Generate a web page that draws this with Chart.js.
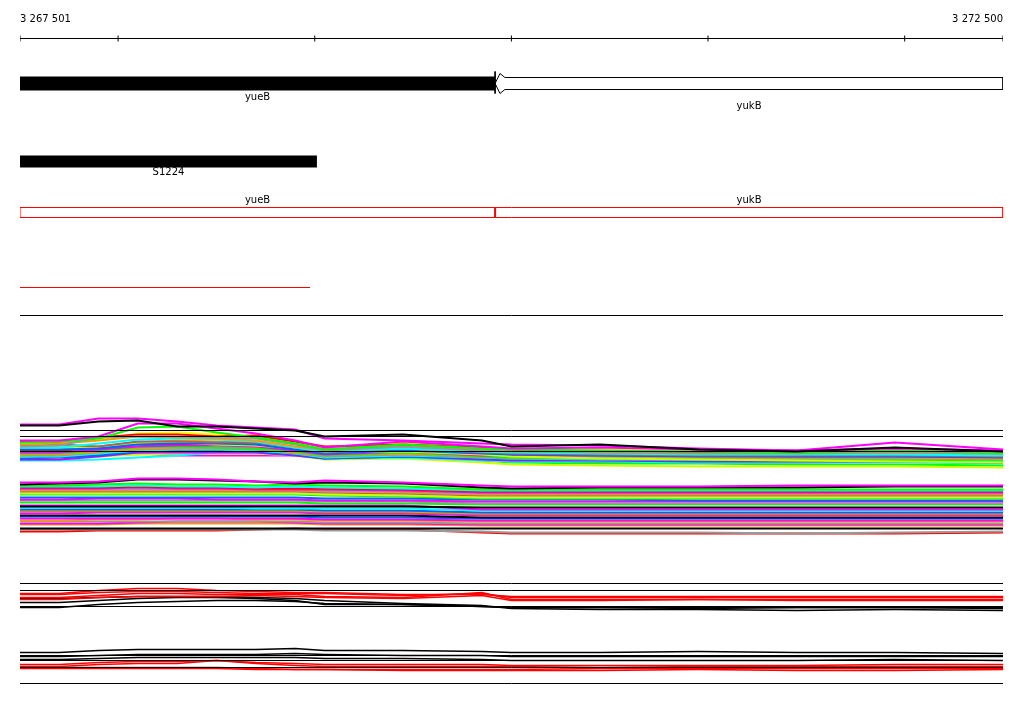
<!DOCTYPE html>
<html>
<head>
<meta charset="utf-8">
<script src="https://cdn.jsdelivr.net/npm/chart.js@4"></script>
<style>
  html, body { margin: 0; padding: 0; background: #fff; }
  canvas { display: block; }
</style>
</head>
<body>
<canvas id="browser" width="1024" height="714"></canvas>
<script>
// region shown (bp) and ruler ticks
const regionStart = 3267501;
const regionEnd = 3272500;
const rulerTicks = [3267501, 3268000, 3269000, 3270000, 3271000, 3272000, 3272500];

// annotation tracks
const geneNames = ['yueB', 'yukB'];
const geneStarts = [3267501, 3269917];
const geneEnds = [3269917, 3272500];
const featureName = 'S1224';
const featureStart = 3267501;
const featureEnd = 3269011;
const segmentEnd = 3268976;

// expression profiles: sample positions (bp) and row offsets per series
const positions = [3267501, 3267700, 3267900, 3268100, 3268300, 3268500, 3268700, 3268900, 3269050, 3269450, 3269850, 3270000, 3270450, 3270950, 3271450, 3271950, 3272500];

const upperFlat = [430, 436, 451];
const upperRows = [
  [425,425,421,420,426,426,428,430,436,434,440,446,444,449,451,447,451],
  [424,424,418,418,421,425,427,429,438,440,443,444,445,448,450,442,449],
  [440,440,436,423,423,428,433,440,447,441,446,448,447,449,450,448,450],
  [442,441,438,427,426,432,437,443,449,444,448,449,450,451,452,450,452],
  [446,445,437,436,436,437,438,444,450,446,450,451,452,453,453,452,453],
  [441,441,437,434,434,436,435,441,446,444,447,449,451,452,451,451,452],
  [444,443,440,436,437,438,440,446,449,445,449,450,452,452,452,452,453],
  [447,447,443,439,438,439,441,447,451,448,451,452,453,454,454,454,455],
  [445,444,446,441,441,442,442,447,452,448,452,453,454,455,455,455,456],
  [449,449,448,444,443,443,444,449,453,450,453,454,455,456,456,456,457],
  [448,448,447,443,442,444,445,448,452,451,454,456,458,459,460,461,462],
  [452,452,449,446,445,445,446,450,454,451,455,455,455,455,456,456,456],
  [453,453,450,447,446,447,448,451,455,452,456,457,458,459,460,460,461],
  [454,454,451,448,447,447,447,452,455,453,456,457,457,457,457,457,458],
  [455,455,452,449,448,448,449,453,456,454,457,458,458,458,458,458,459],
  [456,456,453,450,449,449,450,453,457,455,457,458,459,459,459,459,460],
  [458,457,455,451,450,450,451,454,458,456,458,459,459,460,460,460,461],
  [459,459,456,452,452,452,452,455,458,456,459,460,460,461,461,461,462],
  [460,460,459,457,455,452,452,455,458,457,460,461,461,462,462,462,463],
  [457,457,456,454,453,453,453,455,459,458,462,464,465,466,466,466,467],
  [450,450,448,446,444,444,444,449,452,451,455,457,458,458,459,459,459],
  [451,451,452,453,455,455,455,455,452,453,454,455,455,456,456,456,457],
  [455,455,454,452,451,451,451,453,456,454,460,462,463,463,464,464,465],
  [456,456,455,453,452,452,452,454,458,455,458,460,462,462,462,461,461],
  [447,447,446,442,440,441,442,447,450,447,451,452,453,453,453,453,454],
  [443,443,439,433,432,434,436,442,448,442,447,448,449,450,451,449,451]
];
const upperColors = ['#000000','#ff00ff','#ff00ff','#00ff00','#999999','#ff0000','#ff9900','#00ffff','#a06666','#0066ff','#ccff00','#ff00ff','#00ff00','#ff9900','#999999','#00ffff','#0066ff','#cc00ff','#00ffff','#ccff00','#ff0000','#ff00ff','#00ff00','#ff0000','#ff9900','#ffff00'];

const lowerRows = [
  [482,482,481,478,478,479,481,482,480,482,485,486,486,486,485,485,485],
  [484,483,482,479,479,480,481,483,482,483,487,488,487,487,487,486,486],
  [485,485,484,483,484,484,485,484,485,486,489,489,489,489,489,489,489],
  [486,486,486,485,486,486,487,486,487,488,490,490,490,490,490,490,490],
  [487,487,487,486,487,487,488,488,488,489,491,491,491,491,491,491,491],
  [488,488,488,487,488,488,489,489,489,490,492,492,492,492,492,492,492],
  [489,489,489,489,489,489,489,489,490,491,493,493,493,493,493,493,493],
  [490,490,490,490,490,490,490,490,491,492,494,494,494,494,494,494,494],
  [491,491,491,491,491,491,491,491,492,493,495,495,495,495,495,495,495],
  [493,493,493,493,493,493,493,493,494,495,497,497,497,497,497,497,497],
  [494,494,494,494,494,494,494,494,495,496,498,498,498,498,498,498,498],
  [497,497,497,497,497,497,497,497,498,498,499,499,499,500,500,500,500],
  [499,499,498,498,498,499,499,499,500,500,501,501,501,501,501,501,501],
  [500,500,500,500,500,500,500,500,501,501,503,503,503,503,503,503,503],
  [502,502,502,502,502,502,502,502,503,503,504,504,504,504,504,504,504],
  [506,506,506,506,506,506,506,506,506,506,507,507,507,507,507,507,507],
  [505,505,505,505,505,505,505,505,505,505,509,509,509,509,509,509,509],
  [507,507,507,507,507,507,508,508,508,508,510,510,510,510,510,510,510],
  [509,509,509,509,509,509,509,509,510,510,512,512,512,512,512,512,512],
  [510,510,510,510,510,510,510,510,511,511,513,513,513,513,513,513,513],
  [511,511,511,511,511,511,511,511,512,512,514,514,514,514,514,514,514],
  [513,513,512,512,512,512,512,512,513,513,515,515,515,515,515,515,515],
  [515,515,515,515,515,515,515,515,515,515,517,517,517,517,517,517,517],
  [516,516,516,516,516,516,516,516,517,517,518,518,518,518,518,518,518],
  [518,518,518,518,518,518,518,518,519,519,520,520,520,520,520,520,520],
  [520,520,519,519,518,518,519,519,520,520,521,521,521,521,521,521,521],
  [521,521,521,521,521,521,521,521,522,522,523,523,523,523,523,523,523],
  [523,523,523,522,521,521,521,522,523,523,524,524,524,524,524,524,524],
  [524,524,524,523,523,523,523,523,524,524,525,525,525,525,525,525,525],
  [528,528,528,528,528,528,528,528,528,528,528,528,528,528,528,528,528],
  [529,529,529,529,529,529,529,529,530,530,531,532,532,532,533,532,531],
  [531,531,530,530,530,530,529,528,529,529,532,533,533,533,533,533,532]
];
const lowerColors = ['#ff00ff','#000000','#00ff00','#00ffff','#ff0000','#ff00ff','#999999','#ff9900','#a06666','#ccff00','#00ff00','#0066ff','#ff00ff','#999999','#00ff00','#000000','#ff00ff','#00ffff','#0066ff','#ff9900','#a06666','#ff00ff','#000000','#0066ff','#ff00ff','#ff9900','#999999','#ff00ff','#ff9900','#000000','#999999','#ff0000'];

const panelFlat = [583, 590, 606, 655, 660, 667, 683];
const panelRows = [
  [593,593,590,588,588,590,591,592,592,594,594,596,596,596,596,596,596],
  [594,594,592,591,591,592,593,593,593,595,593,597,597,597,597,597,597],
  [597,597,595,593,593,594,594,594,596,597,592,599,599,599,599,599,599],
  [599,599,597,596,596,596,595,596,597,598,595,600,600,599,600,600,600],
  [602,602,600,598,597,597,598,600,604,604,606,607,607,608,607,607,608],
  [598,598,597,596,596,596,597,598,600,603,605,608,609,609,610,609,610],
  [607,607,604,602,601,600,600,601,603,604,606,607,607,607,607,607,607],
  [652,652,650,649,649,649,649,648,650,650,651,652,652,651,652,652,653],
  [656,656,655,654,654,654,654,653,654,655,655,656,656,656,656,656,656],
  [664,664,662,661,661,660,662,663,664,664,664,665,665,665,665,664,664],
  [666,666,664,663,663,660,663,665,666,666,666,666,667,666,666,666,666],
  [667,667,667,667,667,667,668,669,669,669,669,669,668,668,668,668,668],
  [668,668,668,668,668,668,669,669,669,670,670,670,670,669,670,670,669],
  [659,659,658,657,657,657,657,657,658,658,659,660,660,660,660,659,660]
];
const panelColors = ['#ff0000','#ff0000','#ff0000','#ff0000','#000000','#000000','#000000','#000000','#000000','#ff0000','#ff0000','#ff0000','#ff0000','#000000'];

// helpers
const pt = (x, y) => ({ x, y });
function path(points, color, width, extra) {
  return Object.assign({
    type: 'line', data: points, borderColor: color, borderWidth: width,
    pointRadius: 0, tension: 0, fill: false
  }, extra || {});
}
function profiles(rows, colors, width) {
  return rows.map((r, i) => path(r.map((y, j) => pt(positions[j], y)), colors[i], width));
}
function flat(rows, color) {
  return rows.map(y => path([pt(regionStart, y), pt(regionEnd, y)], color, 1));
}

const yukStart = geneStarts[1];
const datasets = [
  // ruler
  path([pt(regionStart, 38), pt(regionEnd, 38)], '#000', 1),
  path(rulerTicks.map(t => pt(t, 38)), 'rgba(0,0,0,0)', 1,
    { showLine: false, pointRadius: 3, pointStyle: 'line', rotation: 90, pointBorderColor: '#000', pointBorderWidth: 1 }),
  // genes
  path([pt(geneStarts[0], 83), pt(geneEnds[0], 83)], '#000', 14, { borderCapStyle: 'butt' }),
  path([pt(yukStart, 71), pt(yukStart, 93)], '#000', 1),
  path([pt(yukStart, 83), pt(yukStart + 25, 73), pt(yukStart + 50, 77), pt(geneEnds[1], 77),
        pt(geneEnds[1], 89), pt(yukStart + 50, 89), pt(yukStart + 25, 93), pt(yukStart, 83)], '#000', 1),
  path([pt(featureStart, 161), pt(featureEnd, 161)], '#000', 12, { borderCapStyle: 'butt' }),
  // gene model track
  path([pt(regionStart, 207), pt(regionEnd, 207), pt(regionEnd, 217), pt(regionStart, 217), pt(regionStart, 207)], '#ff0000', 1),
  path([pt(yukStart, 207), pt(yukStart, 217)], '#ff0000', 2),
  path([pt(regionStart, 287), pt(segmentEnd, 287)], '#ff0000', 1),
  path([pt(regionStart, 315), pt(regionEnd, 315)], '#000', 1),
  ...flat(upperFlat, '#000'),
  ...profiles(upperRows, upperColors, 2),
  ...profiles(lowerRows, lowerColors, 2),
  ...flat(panelFlat, '#000'),
  ...profiles(panelRows, panelColors, 1.5)
];

const labels = [
  { text: '3 267 501', x: regionStart, y: 19, align: 'left' },
  { text: '3 272 500', x: regionEnd, y: 19, align: 'right' },
  { text: geneNames[0], x: (geneStarts[0] + geneEnds[0]) / 2, y: 97, align: 'center' },
  { text: geneNames[1], x: (geneStarts[1] + geneEnds[1]) / 2, y: 106, align: 'center' },
  { text: featureName, x: (featureStart + featureEnd) / 2, y: 172, align: 'center' },
  { text: geneNames[0], x: (geneStarts[0] + geneEnds[0]) / 2, y: 200, align: 'center' },
  { text: geneNames[1], x: (geneStarts[1] + geneEnds[1]) / 2, y: 200, align: 'center' }
];

const textPlugin = {
  id: 'trackText',
  afterDatasetsDraw(chart) {
    const { ctx, scales } = chart;
    ctx.save();
    ctx.fillStyle = '#000';
    ctx.font = '10px "DejaVu Sans"';
    ctx.textBaseline = 'middle';
    labels.forEach(l => {
      ctx.textAlign = l.align;
      ctx.fillText(l.text, scales.x.getPixelForValue(l.x), scales.y.getPixelForValue(l.y));
    });
    ctx.restore();
  }
};

new Chart(document.getElementById('browser'), {
  type: 'line',
  data: { datasets },
  options: {
    responsive: false,
    animation: false,
    events: [],
    layout: { padding: { left: 20, right: 21, top: 0, bottom: 0 }, autoPadding: false },
    plugins: { legend: { display: false }, tooltip: { enabled: false } },
    scales: {
      x: { type: 'linear', min: regionStart, max: regionEnd, display: false },
      y: { type: 'linear', min: -0.5, max: 713.5, reverse: true, display: false }
    }
  },
  plugins: [textPlugin]
});
</script>
</body>
</html>
